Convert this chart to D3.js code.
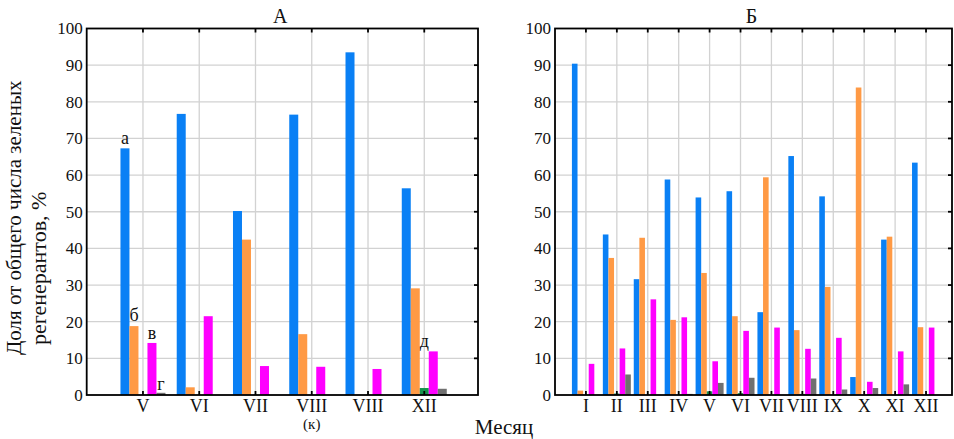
<!DOCTYPE html>
<html>
<head>
<meta charset="utf-8">
<script src="https://cdn.jsdelivr.net/npm/d3@7"></script>
<style>
  body { margin: 0; background: #fff; }
  text { font-family: "Liberation Serif", "Times New Roman", serif; fill: #111; }
</style>
</head>
<body>
<svg></svg>
<script>
//constants
const W = 954, H = 439;
const keys = ["blue", "orange", "green", "magenta", "gray"];
const colors = ["#0a80f5", "#ff9a45", "#14924c", "#ff00ff", "#707070"];
const yTicks = [0, 10, 20, 30, 40, 50, 60, 70, 80, 90, 100];

//panel A data
const monthsA = ["V", "VI", "VII", "VIII", "VIII", "XII"];
const blueA    = [67.3, 76.7, 50.2, 76.5, 93.5, 56.4];
const orangeA  = [18.8, 2.1, 42.4, 16.6, 0, 29.1];
const greenA   = [0, 0, 0, 0, 0, 1.9];
const magentaA = [14.2, 21.5, 7.9, 7.7, 7.1, 11.9];
const grayA    = [0.6, 0, 0, 0, 0, 1.7];

//panel B data
const monthsB = ["I", "II", "III", "IV", "V", "VI", "VII", "VIII", "IX", "X", "XI", "XII"];
const blueB    = [90.4, 43.8, 31.6, 58.8, 53.9, 55.6, 22.6, 65.2, 54.2, 4.9, 42.4, 63.4];
const orangeB  = [1.2, 37.4, 42.9, 20.5, 33.3, 21.5, 59.4, 17.7, 29.5, 83.9, 43.2, 18.5];
const greenB   = [0, 0.4, 0, 0, 1.0, 0.5, 0, 0.3, 0, 0, 0, 0];
const magentaB = [8.5, 12.7, 26.1, 21.2, 9.2, 17.5, 18.4, 12.6, 15.6, 3.6, 11.9, 18.4];
const grayB    = [0, 5.6, 0, 0.3, 3.3, 4.7, 0, 4.5, 1.5, 1.9, 2.9, 0];

const svg = d3.select("svg")
    .attr("width", W)
    .attr("height", H)
    .style("background-color", "#fff");

const yScale = d3.scaleLinear().domain([0, 100]).range([395, 28.5]);

//draws one panel, returns scales for annotations
function panel(opts) {
    const rows = opts.months.map((m, i) => ({
        i: i + 1,
        label: m,
        values: opts.series.map(s => s[i])
    }));

    const xScale = d3.scaleLinear()
        .domain([0, opts.xMax])
        .range([opts.left, opts.right]);

    const sub = d3.scaleBand()
        .domain(keys)
        .range([-opts.barW * 2.5, opts.barW * 2.5]);

    const g = svg.append("g");
    const y0 = yScale(0), y1 = yScale(100);

    //grid
    g.selectAll(".hgrid")
        .data(yTicks.slice(1, -1))
        .enter()
        .append("line")
        .attr("x1", opts.left).attr("x2", opts.right)
        .attr("y1", d => yScale(d)).attr("y2", d => yScale(d))
        .attr("stroke", "#d2d2d2").attr("stroke-width", 1.3);

    g.selectAll(".vgrid")
        .data(rows)
        .enter()
        .append("line")
        .attr("x1", d => xScale(d.i)).attr("x2", d => xScale(d.i))
        .attr("y1", y1).attr("y2", y0)
        .attr("stroke", "#d2d2d2").attr("stroke-width", 1.3);

    //bars
    const groups = g.selectAll(".grp")
        .data(rows)
        .enter()
        .append("g")
        .attr("transform", d => "translate(" + xScale(d.i) + ",0)");

    groups.selectAll("rect")
        .data(d => d.values.map((v, k) => ({key: keys[k], v: v, k: k})).filter(e => e.v > 0))
        .enter()
        .append("rect")
        .attr("x", e => sub(e.key))
        .attr("width", sub.bandwidth())
        .attr("y", e => yScale(e.v))
        .attr("height", e => y0 - yScale(e.v))
        .attr("fill", e => colors[e.k]);

    //inner ticks
    g.selectAll(".ttick")
        .data(rows)
        .enter()
        .append("line")
        .attr("x1", d => xScale(d.i)).attr("x2", d => xScale(d.i))
        .attr("y1", y1).attr("y2", y1 + 4)
        .attr("stroke", "#000").attr("stroke-width", 1.8);

    g.selectAll(".btick")
        .data(rows)
        .enter()
        .append("line")
        .attr("x1", d => xScale(d.i)).attr("x2", d => xScale(d.i))
        .attr("y1", y0).attr("y2", y0 - 4)
        .attr("stroke", "#000").attr("stroke-width", 1.8);

    g.selectAll(".rtick")
        .data(yTicks.slice(1, -1))
        .enter()
        .append("line")
        .attr("x1", opts.right).attr("x2", opts.right - 4)
        .attr("y1", d => yScale(d)).attr("y2", d => yScale(d))
        .attr("stroke", "#000").attr("stroke-width", 1.8);

    //frame
    g.append("rect")
        .attr("x", opts.left).attr("y", y1)
        .attr("width", opts.right - opts.left).attr("height", y0 - y1)
        .attr("fill", "none").attr("stroke", "#000").attr("stroke-width", 1.8);

    //tick labels
    g.selectAll(".ylab")
        .data(yTicks)
        .enter()
        .append("text")
        .attr("x", opts.left - 4)
        .attr("y", d => yScale(d))
        .attr("dy", "0.35em")
        .attr("text-anchor", "end")
        .style("font-size", "17px")
        .text(d => d);

    g.selectAll(".xlab")
        .data(rows)
        .enter()
        .append("text")
        .attr("x", d => xScale(d.i))
        .attr("y", 412)
        .attr("text-anchor", "middle")
        .style("font-size", "18px")
        .text(d => d.label);

    //title
    g.append("text")
        .attr("x", (opts.left + opts.right) / 2 - 2)
        .attr("y", 23)
        .attr("text-anchor", "middle")
        .style("font-size", "20px")
        .text(opts.title);

    return {xScale: xScale, sub: sub, rows: rows};
}

const A = panel({
    left: 86.7, right: 478, xMax: 6.955, barW: 9,
    months: monthsA, series: [blueA, orangeA, greenA, magentaA, grayA], title: "А"
});

panel({
    left: 555, right: 952, xMax: 12.84, barW: 5.6,
    months: monthsB, series: [blueB, orangeB, greenB, magentaB, grayB], title: "Б"
});

//letter marks in panel A
const marks = [
    {t: "а", grp: 0, key: "blue", v: blueA[0], dy: -4},
    {t: "б", grp: 0, key: "orange", v: orangeA[0], dy: -5},
    {t: "в", grp: 0, key: "magenta", v: magentaA[0], dy: -4},
    {t: "г", grp: 0, key: "gray", v: grayA[0], dy: -3},
    {t: "д", grp: 5, key: "green", v: magentaA[5], dy: -4}
];

svg.selectAll(".mark")
    .data(marks)
    .enter()
    .append("text")
    .attr("x", d => A.xScale(d.grp + 1) + A.sub(d.key) + A.sub.bandwidth() / 2)
    .attr("y", d => yScale(d.v) + d.dy)
    .attr("text-anchor", "middle")
    .style("font-size", "18px")
    .text(d => d.t);

//"(к)" under the first VIII
svg.append("text")
    .attr("x", A.xScale(4))
    .attr("y", 429)
    .attr("text-anchor", "middle")
    .style("font-size", "15px")
    .text("(к)");

//axis labels
svg.append("text")
    .attr("x", 504)
    .attr("y", 434)
    .attr("text-anchor", "middle")
    .style("font-size", "21px")
    .text("Месяц");

svg.append("text")
    .attr("transform", "translate(21,355) rotate(-90)")
    .attr("text-anchor", "start")
    .style("font-size", "21px")
    .text("Доля от общего числа зеленых");

svg.append("text")
    .attr("transform", "translate(46,345) rotate(-90)")
    .attr("text-anchor", "start")
    .style("font-size", "22px")
    .text("регенерантов, %");
</script>
</body>
</html>
